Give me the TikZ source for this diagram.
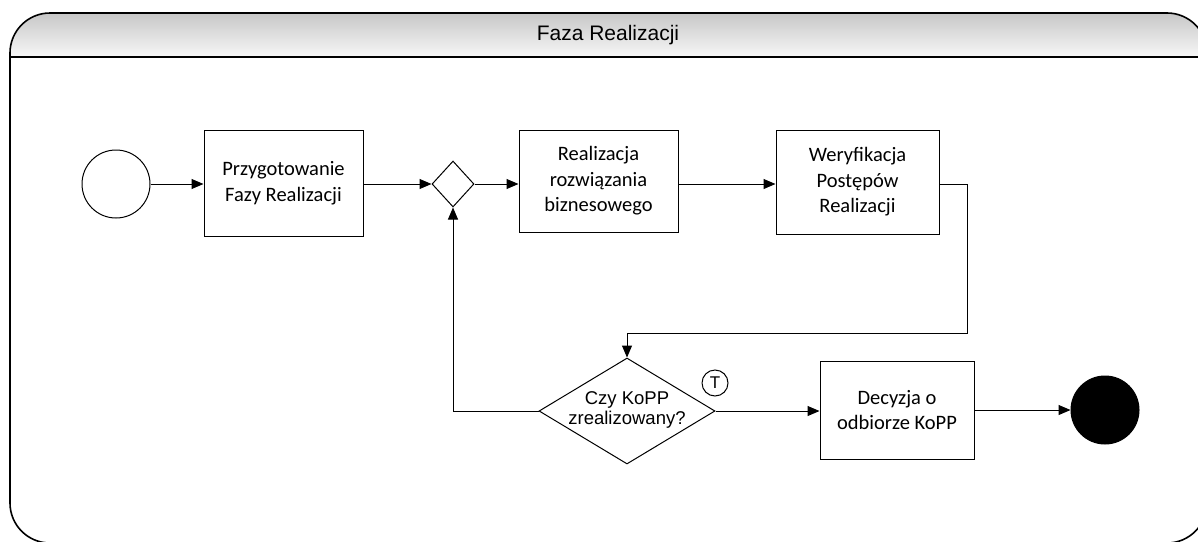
\documentclass[tikz,border=0pt]{standalone}
\usepackage{fontspec}
\setmainfont{Liberation Sans}
\newfontfamily\calfont{Carlito}
\usetikzlibrary{arrows.meta,shapes.geometric,positioning,calc}
\tikzset{
  box/.style={draw=black,line width=1pt,fill=white,rectangle,inner sep=0pt,align=center},
  calbox/.style={box,font=\calfont\fontsize{20.5}{25.5}\selectfont},
  gate/.style={draw=black,line width=1pt,fill=white,diamond,inner sep=0pt},
  evt/.style={draw=black,line width=1pt,circle,inner sep=0pt,minimum size=68pt},
  conn/.style={line width=1pt,-{Triangle[length=12pt,width=10pt]}},
  frame/.style={draw=black,line width=1.6pt,rounded corners=40pt}
}
\begin{document}
\begin{tikzpicture}[x=1pt,y=1pt]
\useasboundingbox (0,0) rectangle (1198,-541);
\clip (0,0) rectangle (1198,-541);
% frame
\begin{scope}
  \clip[rounded corners=40pt] (10,-13) rectangle (1207,-543);
  \shade[top color=black!22,bottom color=black!3] (10,-13) rectangle (1207,-57);
\end{scope}
\draw[frame] (10,-13) rectangle (1207,-543);
\draw[line width=1.6pt] (10,-57) -- (1207,-57);
\node[font=\fontsize{21}{25}\selectfont] (title) at (608,-35) {Faza Realizacji};
% nodes
\node[evt] (start) at (116,-184) {};
\node[calbox,minimum width=159pt,minimum height=106pt] (b1) at (283.5,-183) {Przygotowanie\\Fazy Realizacji};
\node[gate,minimum width=42pt,minimum height=46pt] (d1) at (453,-184) {};
\node[calbox,minimum width=159pt,minimum height=102pt] (b2) at (598.5,-181) {Realizacja\\rozwiązania\\biznesowego};
\node[calbox,minimum width=163pt,minimum height=104pt] (b3) at (857.5,-182) {Weryfikacja\\Postępów\\Realizacji};
\node[gate,minimum width=176pt,minimum height=106pt] (d2) at (627,-411) {};
\node[align=center,font=\fontsize{18.5}{20.5}\selectfont,inner sep=0pt] (d2t) at (627,-410) {Czy KoPP\\zrealizowany?};
\node[draw=black,line width=1pt,circle,inner sep=0pt,minimum size=26pt,font=\fontsize{17}{17}\selectfont] (tm) at (715,-383) {T};
\node[calbox,minimum width=154pt,minimum height=98pt] (b4) at (897,-410) {Decyzja o\\odbiorze KoPP};
\node[evt,fill=black] (end) at (1105,-410) {};
% connectors
\coordinate (r1) at (967,-184);
\coordinate (r2) at (967,-333);
\coordinate (r3) at (627,-333);
\coordinate (l1) at (453,-411);
\draw[conn] (start.east) -- (start.east -| b1.west);
\draw[conn] (b1.east |- d1.west) -- (d1.west);
\draw[conn] (d1.east) -- (d1.east -| b2.west);
\draw[conn] (b2.east |- d1.east) -- (d1.east -| b3.west);
\draw[conn] (b3.east |- r1) -- (r1) -- (r2) -- (r3) -- (d2.north);
\draw[conn] (d2.west) -- (l1) -- (d1.south);
\draw[conn] (d2.east) -- (d2.east -| b4.west);
\draw[conn] (b4.east |- end.west) -- (end.west);
\end{tikzpicture}
\end{document}
